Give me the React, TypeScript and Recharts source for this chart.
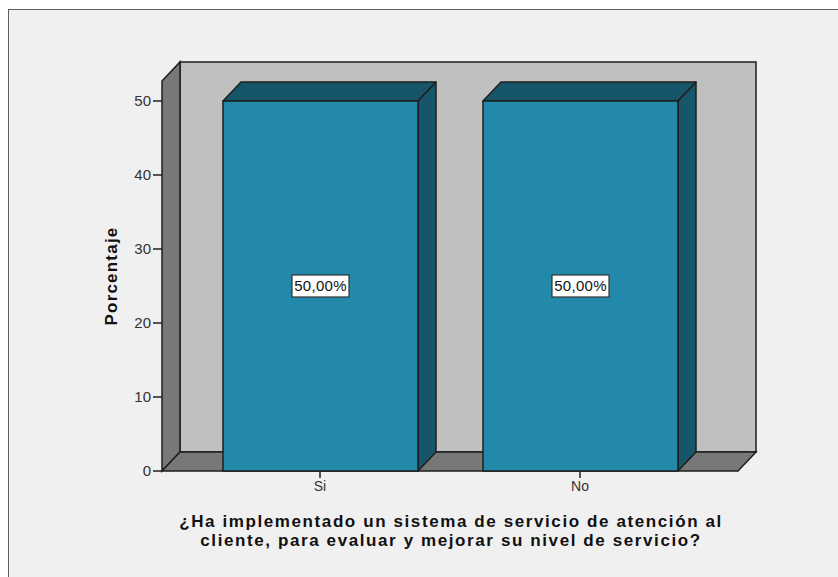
import React from 'react';
import {
  BarChart,
  Bar,
  XAxis,
  YAxis,
  LabelList,
  Customized,
} from 'recharts';

const categories = ['Si', 'No'];
const percentages = [50, 50];
const yTicks = [0, 10, 20, 30, 40, 50];

const xTitle = [
  '¿Ha implementado un sistema de servicio de atención al',
  'cliente, para evaluar y mejorar su nivel de servicio?',
];
const yTitle = 'Porcentaje';

const data = categories.map((name, i) => ({ name, value: percentages[i] }));

const W = 838;
const H = 577;
const Y_AXIS_W = 60;
const X_AXIS_H = 30;
const margin = { top: 81, right: 100, bottom: 76, left: 102 };

// 3D depth of walls and bars
const DX = 18;
const DY = 19;

const FRONT = '#2389ab';
const DARK = '#17566a';
const WALL = '#c0c0c0';
const SIDE = '#787878';
const EDGE = '#1e1e1e';
const FONT = '"Liberation Sans", Arial, sans-serif';

// plot rectangle (front plane)
const px = margin.left + Y_AXIS_W;
const py = margin.top;
const pw = W - margin.right - px;
const ph = H - margin.bottom - X_AXIS_H - py;

const Walls = () => (
  <g>
    <polygon
      points={`${px + DX},${py - DY} ${px + pw + DX},${py - DY} ${px + pw + DX},${py + ph - DY} ${px + DX},${py + ph - DY}`}
      fill={WALL}
      stroke={EDGE}
      strokeWidth={1.5}
    />
    <polygon
      points={`${px},${py} ${px + DX},${py - DY} ${px + DX},${py + ph - DY} ${px},${py + ph}`}
      fill={SIDE}
      stroke={EDGE}
      strokeWidth={1.5}
    />
    <polygon
      points={`${px},${py + ph} ${px + DX},${py + ph - DY} ${px + pw + DX},${py + ph - DY} ${px + pw},${py + ph}`}
      fill={SIDE}
      stroke={EDGE}
      strokeWidth={1.5}
    />
  </g>
);

const Titles = () => (
  <g fontFamily={FONT} fontWeight="bold" fill="#111">
    <text x={451} y={527} textAnchor="middle" fontSize={17} letterSpacing={1.6}>
      {xTitle[0]}
    </text>
    <text x={451} y={546} textAnchor="middle" fontSize={17} letterSpacing={1.6}>
      {xTitle[1]}
    </text>
    <text
      x={117}
      y={276}
      textAnchor="middle"
      fontSize={17}
      letterSpacing={1.2}
      transform="rotate(-90 117 276)"
    >
      {yTitle}
    </text>
  </g>
);

const Box3D = (props: any) => {
  const { x, y, width: w, height: h } = props;
  return (
    <g stroke={EDGE} strokeWidth={1.5} strokeLinejoin="round">
      <polygon
        points={`${x},${y} ${x + DX},${y - DY} ${x + w + DX},${y - DY} ${x + w},${y}`}
        fill={DARK}
      />
      <polygon
        points={`${x + w},${y} ${x + w + DX},${y - DY} ${x + w + DX},${y + h - DY} ${x + w},${y + h}`}
        fill={DARK}
      />
      <rect x={x} y={y} width={w} height={h} fill={FRONT} />
    </g>
  );
};

const ValueTag = (props: any) => {
  const { x, y, width, height, value } = props;
  const cx = x + width / 2;
  const cy = y + height / 2;
  const text = `${Number(value).toFixed(2).replace('.', ',')}%`;
  return (
    <g>
      <rect x={cx - 28.5} y={cy - 11} width={57} height={22} fill="#fff" stroke="#333" strokeWidth={1.2} />
      <text x={cx} y={cy + 5.5} textAnchor="middle" fontFamily={FONT} fontSize={15} letterSpacing={0.3} fill="#111">
        {text}
      </text>
    </g>
  );
};

export default function App() {
  return (
    <div style={{ position: 'fixed', left: 0, top: 0, width: W, height: H, background: '#fff', overflow: 'hidden' }}>
      <div
        style={{
          position: 'absolute',
          left: 8,
          top: 9,
          width: W + 20,
          height: H + 20,
          background: '#f0f0f0',
          border: '1px solid #606060',
        }}
      />
      <div style={{ position: 'absolute', left: 0, top: 0 }}>
        <BarChart width={W} height={H} data={data} margin={margin} barSize={195}>
          <Customized component={Walls} />
          <XAxis
            dataKey="name"
            height={X_AXIS_H}
            padding={{ left: 28, right: 28 }}
            axisLine={false}
            tickSize={7}
            tickMargin={3}
            tickLine={{ stroke: '#222', strokeWidth: 1.5 }}
            tick={{ fill: '#333', fontSize: 14, fontFamily: FONT }}
          />
          <YAxis
            width={Y_AXIS_W}
            domain={[0, 52.7]}
            ticks={yTicks}
            axisLine={false}
            tickSize={9}
            tickMargin={2}
            tickLine={{ stroke: '#222', strokeWidth: 1.5 }}
            tick={{ fill: '#333', fontSize: 15, fontFamily: FONT }}
          />
          <Bar dataKey="value" shape={Box3D} isAnimationActive={false}>
            <LabelList dataKey="value" content={ValueTag} />
          </Bar>
          <Customized component={Titles} />
        </BarChart>
      </div>
    </div>
  );
}
